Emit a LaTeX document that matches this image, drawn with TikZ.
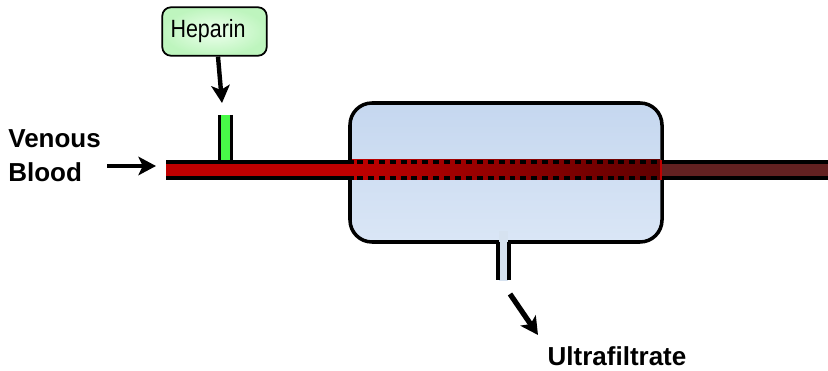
\documentclass[tikz,border=0pt]{standalone}
\usepackage{fontspec}
\setmainfont{Liberation Sans}
\usetikzlibrary{calc,arrows.meta}
\definecolor{bloodred}{RGB}{192,0,0}
\definecolor{darkblood}{RGB}{96,0,0}
\definecolor{usedblood}{RGB}{99,33,33}
\definecolor{filtertop}{RGB}{197,215,239}
\definecolor{filterbot}{RGB}{218,230,246}
\definecolor{hepgreen}{RGB}{72,250,72}
\definecolor{hepbox}{RGB}{190,245,190}
\definecolor{hepglow}{RGB}{238,255,238}
\definecolor{ufluid}{RGB}{214,226,240}
\tikzset{
    flowarrow/.style={line width=2.5pt,-{Stealth[length=10pt,width=10.5pt,inset=2.5pt]}},
    flowlabel/.style={font=\fontsize{14.8}{19.3}\selectfont\bfseries,align=left,inner sep=0pt},
    wall/.style={line width=2.2pt},
}
\begin{document}
\begin{tikzpicture}[x=0.02cm,y=-0.02cm]
            \useasboundingbox (0,0) rectangle (828,371);
            \draw[line width=2pt,rounded corners=12.5pt,top color=filtertop,bottom color=filterbot] (350,103) rectangle (662,242);
            \fill[hepgreen] (220,115) rectangle (231,162);
            \draw[wall,line width=2pt] (219.5,115) -- (219.5,161) (231.5,115) -- (231.5,161);
            \fill[bloodred] (166,160) rectangle (352,180);
            \fill[left color=bloodred,middle color=bloodred!85!darkblood,right color=darkblood] (352,160) rectangle (660,180);
            \fill[bloodred] (659.5,160) rectangle (662,180);
            \fill[usedblood] (662,163) rectangle (828,177);
            \draw[wall] (166,162) -- (354,162) (166,178.3) -- (354,178.3);
            \draw[wall] (662,162) -- (828,162) (662,178.3) -- (828,178.3);
            \foreach \y in {162,178.3}{
                \draw[wall,dash pattern=on 3.4pt off 2.8pt] (357,\y) -- (662,\y);
            }
            \fill[ufluid] (499,231) rectangle (508,281);
            \draw[wall] (498.4,242) -- (498.4,280) (508.7,242) -- (508.7,280);
            \node[flowlabel,anchor=west] (venous) at (8,155.5) {Venous\\Blood};
            \node[flowlabel] (ultra) at (617,356) {Ultrafiltrate};
            \node[draw,line width=1pt,rounded corners=5pt,inner color=hepglow,outer color=hepbox,
                minimum width=104.5*0.02cm,minimum height=48.5*0.02cm,text width=1.76cm,inner sep=0pt,align=left] (heparin) at (214.5,31.5)
                {\fontsize{14.2}{16}\selectfont\scalebox{.86}[1]{Heparin}};
            \coordinate (hepin) at (222,103);
            \coordinate (bloodin) at (156,166);
            \coordinate (bloodstart) at (107,166);
            \coordinate (ufstart) at (510,294);
            \coordinate (ufend) at (538,335);
            \draw[flowarrow] (heparin.south -| 218,0) -- (hepin);
            \draw[flowarrow] (bloodstart) -- (bloodin);
            \draw[flowarrow,line width=3pt] (ufstart) -- (ufend);
        \end{tikzpicture}
\end{document}
